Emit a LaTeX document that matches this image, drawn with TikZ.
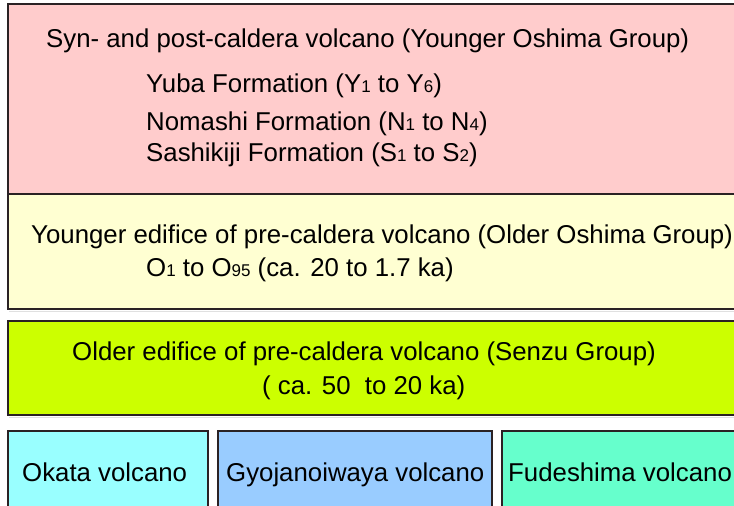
\documentclass[tikz,border=0pt]{standalone}
\usepackage{fontspec}
\setmainfont{Liberation Sans}
\definecolor{boxline}{HTML}{2A2224}
\definecolor{cpink}{HTML}{FFCCCC}
\definecolor{cyellow}{HTML}{FFFFD2}
\definecolor{clime}{HTML}{CCFF00}
\definecolor{ccyan}{HTML}{99FFFF}
\definecolor{cblue}{HTML}{99CCFF}
\definecolor{cgreen}{HTML}{66FFCC}
\newcommand\sd[1]{{\fontsize{17}{17}\selectfont #1}}
\tikzset{
  layerbox/.style={draw=boxline, line width=2pt},
  lbl/.style={inner sep=0pt, anchor=base west, text=black, font=\fontsize{25.8}{30}\selectfont},
  shade/.style={draw=black!12, line width=1.5pt}
}
\begin{document}
\begin{tikzpicture}[x=1pt,y=-1pt]
\useasboundingbox (0,0) rectangle (734,506);
\clip (0,0) rectangle (734,506);
\fill[white] (0,0) rectangle (734,506);
% boxes
\draw[shade] (9,311.5) -- (760,311.5);
\draw[shade] (9,417.5) -- (760,417.5);
\draw[layerbox, fill=cpink] (8,4) rectangle (760,194);
\draw[layerbox, fill=cyellow] (8,194) rectangle (760,309);
\draw[layerbox, fill=clime] (8,321) rectangle (760,415);
\draw[layerbox, fill=ccyan] (8,431) rectangle (208,530);
\draw[layerbox, fill=cblue] (218,431) rectangle (492,530);
\draw[layerbox, fill=cgreen] (502,431) rectangle (760,530);
% texts
\node[lbl] (t1) at (46,47) {Syn- and post-caldera volcano (Younger Oshima Group)};
\node[lbl] (yuba) at (146,92) {Yuba Formation (Y\sd{1} to Y\sd{6})};
\node[lbl] (noma) at (146,130) {Nomashi Formation (N\sd{1} to N\sd{4})};
\node[lbl] (sashi) at (146,161) {Sashikiji Formation (S\sd{1} to S\sd{2})};
\node[lbl] (t2) at (31,243) {Younger edifice of pre-caldera volcano (Older Oshima Group)};
\node[lbl] (o95) at (146,276) {O\sd{1} to O\sd{95} (ca. 20 to 1.7 ka)};
\node[lbl] (t3) at (72,360) {Older edifice of pre-caldera volcano (Senzu Group)};
\node[lbl] (age3) at (262,394) {( ca. 50\ \ to 20 ka)};
\node[lbl] (okata) at (22,481) {Okata volcano};
\node[lbl] (gyo) at (226,481) {Gyojanoiwaya volcano};
\node[lbl] (fude) at (508,481) {Fudeshima volcano};
\end{tikzpicture}
\end{document}
